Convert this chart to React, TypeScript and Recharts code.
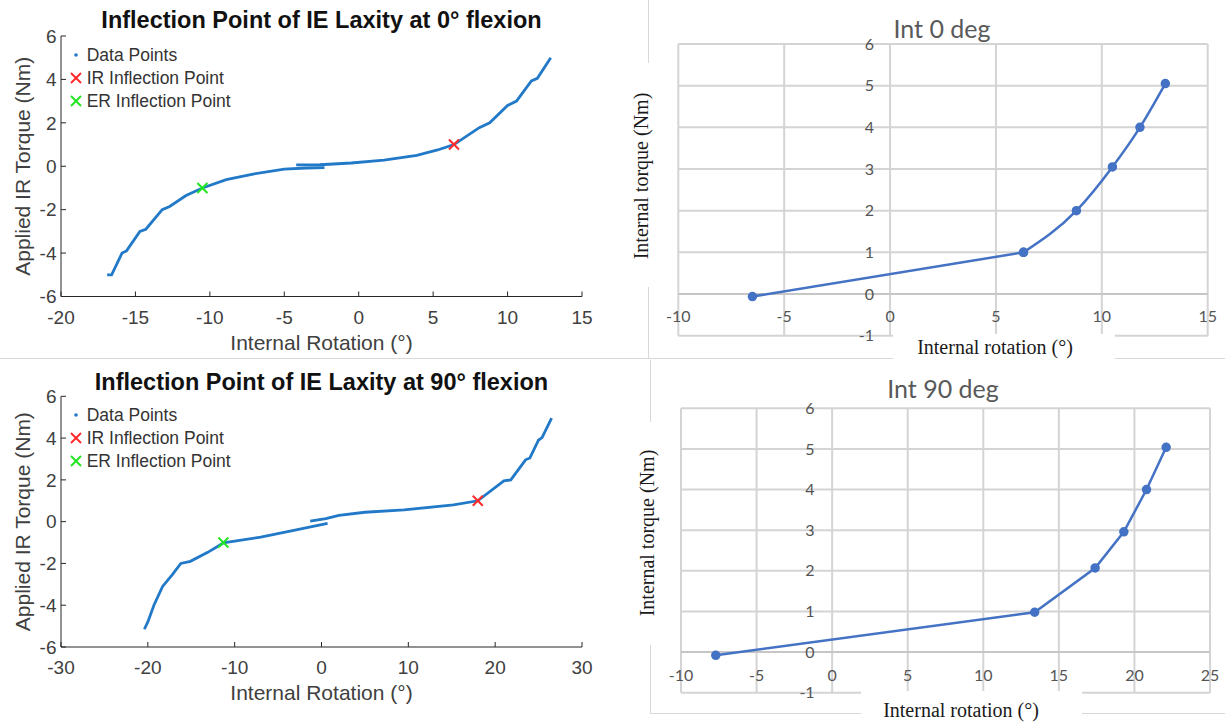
import React from 'react'
import {
  ComposedChart, Line, Scatter, XAxis, YAxis, Legend, Label, ReferenceDot, ReferenceLine,
} from 'recharts'

// ---- top-left: IE laxity at 0° flexion (MATLAB figure) ----
const flex0LowerX = [-16.9, -16.6, -15.9, -15.6, -14.7, -14.3, -13.2, -12.7, -11.6, -10.5, -8.9, -7.1, -5.0, -3.5, -2.3]
const flex0LowerY = [-5.0, -5.0, -4.0, -3.9, -3.0, -2.9, -2.0, -1.85, -1.35, -1.0, -0.62, -0.36, -0.13, -0.08, -0.06]
const flex0UpperX = [-4.2, -2.6, -0.5, 1.7, 3.9, 5.3, 6.4, 8.1, 8.8, 10.0, 10.6, 11.6, 12.0, 12.9]
const flex0UpperY = [0.06, 0.07, 0.15, 0.28, 0.5, 0.75, 1.0, 1.78, 2.0, 2.8, 3.0, 3.93, 4.05, 5.0]
const flex0IR = [{ x: 6.4, y: 1 }]
const flex0ER = [{ x: -10.5, y: -1 }]
const flex0XTicks = [-20, -15, -10, -5, 0, 5, 10, 15]

// ---- bottom-left: IE laxity at 90° flexion ----
const flex90LowerX = [-20.4, -20.0, -19.3, -18.3, -17.2, -16.2, -15.1, -13.1, -11.3, -7.0, -3.2, 0.7]
const flex90LowerY = [-5.15, -4.8, -4.0, -3.1, -2.55, -2.0, -1.9, -1.47, -1.02, -0.74, -0.42, -0.08]
const flex90UpperX = [-1.3, 0.5, 2.0, 5.0, 9.5, 15.2, 18.0, 21.0, 21.8, 23.5, 24.0, 25.0, 25.4, 26.5]
const flex90UpperY = [0.03, 0.14, 0.3, 0.45, 0.56, 0.8, 1.0, 1.95, 2.0, 2.96, 3.05, 3.91, 4.02, 4.95]
const flex90IR = [{ x: 18.0, y: 1 }]
const flex90ER = [{ x: -11.3, y: -1 }]
const flex90XTicks = [-30, -20, -10, 0, 10, 20, 30]

const matlabYTicks = [-6, -4, -2, 0, 2, 4, 6]
const legendNames = ['Data Points', 'IR Inflection Point', 'ER Inflection Point']

// ---- right: Excel charts ----
const int0X = [-6.5, 6.3, 8.8, 10.5, 11.8, 13.0]
const int0Y = [-0.06, 1.0, 2.0, 3.05, 4.0, 5.05]
const int0XTicks = [-10, -5, 0, 5, 10, 15]

const int90X = [-7.7, 13.4, 17.4, 19.3, 20.8, 22.1]
const int90Y = [-0.08, 0.98, 2.07, 2.96, 4.0, 5.04]
const int90XTicks = [-10, -5, 0, 5, 10, 15, 20, 25]

const excelYTicks = [-1, 0, 1, 2, 3, 4, 5, 6]

const toPoints = (xs: number[], ys: number[]) => xs.map((x, i) => ({ x, y: ys[i] }))

const MATLAB_FONT = '"Liberation Sans", Arial, sans-serif'
const EXCEL_FONT = 'Lato, "Open Sans", sans-serif'
const SERIF_FONT = '"Liberation Serif", "Times New Roman", serif'
const DATA_BLUE = '#2179c8'
const EXCEL_BLUE = '#4472c4'
const FRAME = '#d8d8d8'
const GRID = '#d4d4d4'

function XMark(props: any) {
  const { cx, cy, fill } = props
  if (cx == null || cy == null) return null
  const s = 5
  return (
    <g stroke={fill} strokeWidth={2}>
      <line x1={cx - s} y1={cy - s} x2={cx + s} y2={cy + s} />
      <line x1={cx - s} y1={cy + s} x2={cx + s} y2={cy - s} />
    </g>
  )
}

function MatlabLegend(props: any) {
  const items = [...(props.payload ?? [])]
    .filter((p: any) => legendNames.includes(p.value))
    .sort((a: any, b: any) => legendNames.indexOf(a.value) - legendNames.indexOf(b.value))
  return (
    <div style={{ fontFamily: MATLAB_FONT, fontSize: 17.5, color: '#333' }}>
      {items.map((p: any) => (
        <div key={p.value} style={{ display: 'flex', alignItems: 'center', height: 23, whiteSpace: 'nowrap' }}>
          <svg width={16} height={16} style={{ marginRight: 3 }}>
            {p.type === 'cross' ? (
              <g stroke={p.color} strokeWidth={2}>
                <line x1={3} y1={3} x2={13} y2={13} />
                <line x1={3} y1={13} x2={13} y2={3} />
              </g>
            ) : (
              <circle cx={8} cy={8} r={1.8} fill={p.color} />
            )}
          </svg>
          <span>{p.value}</span>
        </div>
      ))}
    </div>
  )
}

function MatlabPanel(props: any) {
  const { top, height, margin, title, titleTop, xTicks, lower, upper, ir, er } = props
  const width = 600
  const axisStyle = { stroke: '#262626' }
  return (
    <div style={{ position: 'absolute', left: 0, top, width, height, fontFamily: MATLAB_FONT }}>
      <div style={{
        position: 'absolute', left: margin.left + 50 - 40, width: width - margin.left - 50 - margin.right + 80, top: titleTop,
        textAlign: 'center', fontWeight: 'bold', fontSize: 23.5, lineHeight: '26px', color: '#111', whiteSpace: 'nowrap',
      }}>{title}</div>
      <ComposedChart width={width} height={height} margin={margin}>
        <XAxis type="number" dataKey="x" domain={[xTicks[0], xTicks[xTicks.length - 1]]} ticks={xTicks}
          height={50} axisLine={axisStyle} tickLine={axisStyle} tickSize={-5} tickMargin={19}
          tick={{ fill: '#404040', fontSize: 19 }} allowDataOverflow>
          <Label value="Internal Rotation (°)" position="insideBottom" offset={-3} fill="#404040" fontSize={21} />
        </XAxis>
        <YAxis type="number" domain={[-6, 6]} ticks={matlabYTicks} width={50}
          axisLine={axisStyle} tickLine={axisStyle} tickSize={-5} tickMargin={9.5}
          tick={{ fill: '#404040', fontSize: 19 }} allowDataOverflow>
          <Label value="Applied IR Torque (Nm)" angle={-90} position="insideLeft" offset={12}
            fill="#404040" fontSize={21} style={{ textAnchor: 'middle' }} />
        </YAxis>
        <Legend content={<MatlabLegend />} layout="vertical" align="center" verticalAlign="middle"
          wrapperStyle={{ top: 43.5, left: 67.7, width: 'auto', height: 'auto' }} />
        <Line data={lower} dataKey="y" name="Data Points" type="linear" stroke={DATA_BLUE} strokeWidth={2.8}
          dot={false} legendType="circle" isAnimationActive={false} />
        <Line data={upper} dataKey="y" name="loop" type="linear" stroke={DATA_BLUE} strokeWidth={2.8}
          dot={false} legendType="none" isAnimationActive={false} />
        <Scatter data={ir} dataKey="y" name="IR Inflection Point" fill="#ff2a2a" shape={<XMark />}
          legendType="cross" isAnimationActive={false} />
        <Scatter data={er} dataKey="y" name="ER Inflection Point" fill="#22e622" shape={<XMark />}
          legendType="cross" isAnimationActive={false} />
      </ComposedChart>
    </div>
  )
}

function ExcelPanel(props: any) {
  const { top, height, margin, xTicks, points, curve, yLabelOffset, xLabelOffset } = props
  const width = 625
  const xMin = xTicks[0]
  const xMax = xTicks[xTicks.length - 1]
  const yMin = excelYTicks[0]
  const yMax = excelYTicks[excelYTicks.length - 1]
  const head = curve === 'split' ? points.slice(0, 2) : points
  const tail = curve === 'split' ? points.slice(1) : []
  return (
    <div style={{ position: 'absolute', left: 600, top, width, height, fontFamily: EXCEL_FONT }}>
      <ComposedChart width={width} height={height} margin={margin}>
        <XAxis type="number" dataKey="x" domain={[xMin, xMax]} ticks={xTicks}
          height={1} tick={false} axisLine={false} tickLine={false} />
        <YAxis type="number" domain={[yMin, yMax]} ticks={excelYTicks} width={1}
          tick={false} axisLine={false} tickLine={false} />
        {xTicks.map((v: number) => (
          <ReferenceLine key={'gv' + v} segment={[{ x: v, y: yMin }, { x: v, y: yMax }]}
            stroke={GRID} strokeWidth={2} />
        ))}
        {excelYTicks.map((v) => (
          <ReferenceLine key={'gh' + v} segment={[{ x: xMin, y: v }, { x: xMax, y: v }]}
            stroke={v === 0 ? '#c6c6c6' : GRID} strokeWidth={2} />
        ))}
        {excelYTicks.map((v) => (
          <ReferenceDot key={'y' + v} x={0} y={v} r={1} fill="none" stroke="none"
            label={{ value: String(v), position: 'left', offset: yLabelOffset, fill: '#555', fontSize: 16 }} />
        ))}
        {xTicks.map((v: number) => (
          <ReferenceDot key={'x' + v} x={v} y={0} r={1} fill="none" stroke="none"
            label={{ value: String(v), position: 'bottom', offset: xLabelOffset, fill: '#555', fontSize: 16 }} />
        ))}
        <Line data={head} dataKey="y" type="linear" stroke={EXCEL_BLUE} strokeWidth={2.5}
          dot={{ r: 3.5, fill: EXCEL_BLUE, stroke: EXCEL_BLUE }} isAnimationActive={false} />
        {tail.length > 0 && (
          <Line data={tail} dataKey="y" type="monotone" stroke={EXCEL_BLUE} strokeWidth={2.5}
            dot={{ r: 3.5, fill: EXCEL_BLUE, stroke: EXCEL_BLUE }} isAnimationActive={false} />
        )}
      </ComposedChart>
    </div>
  )
}

function Box(props: any) {
  return <div style={{ position: 'absolute', background: '#fff', ...props.style }} />
}

function Text(props: any) {
  const { cx, cy, w, h, rotate, font, size, color, children } = props
  return (
    <div style={{
      position: 'absolute', left: cx - w / 2, top: cy - h / 2, width: w, height: h, lineHeight: h + 'px',
      textAlign: 'center', whiteSpace: 'nowrap', fontFamily: font, fontSize: size, color,
      transform: rotate ? 'rotate(-90deg)' : undefined,
    }}>{children}</div>
  )
}

export default function App() {
  return (
    <div style={{ position: 'relative', width: 1225, height: 725, background: '#fff', overflow: 'hidden' }}>
      <style>{'body{margin:0}'}</style>

      {/* faint frames of the pasted figures */}
      <div style={{ position: 'absolute', left: 0, top: 358, width: 1225, height: 1, background: FRAME }} />
      <div style={{ position: 'absolute', left: 648, top: 0, width: 1, height: 358, background: FRAME }} />
      <div style={{ position: 'absolute', left: 650, top: 360, width: 1, height: 353, background: FRAME }} />
      <div style={{ position: 'absolute', left: 650, top: 713, width: 575, height: 1, background: FRAME }} />

      <MatlabPanel top={0} height={360} margin={{ top: 36, right: 18, bottom: 13.5, left: 11 }}
        title="Inflection Point of IE Laxity at 0° flexion" titleTop={7} xTicks={flex0XTicks}
        lower={toPoints(flex0LowerX, flex0LowerY)} upper={toPoints(flex0UpperX, flex0UpperY)}
        ir={flex0IR} er={flex0ER} />
      <MatlabPanel top={360} height={365} margin={{ top: 36.3, right: 18, bottom: 28, left: 11 }}
        title="Inflection Point of IE Laxity at 90° flexion" titleTop={9} xTicks={flex90XTicks}
        lower={toPoints(flex90LowerX, flex90LowerY)} upper={toPoints(flex90UpperX, flex90UpperY)}
        ir={flex90IR} er={flex90ER} />

      <ExcelPanel top={0} height={360} margin={{ top: 44, right: 17.3, bottom: 23.3, left: 77.3 }}
        xTicks={int0XTicks} points={toPoints(int0X, int0Y)} curve="split" yLabelOffset={15} xLabelOffset={16} />
      <ExcelPanel top={360} height={365} margin={{ top: 48.3, right: 15, bottom: 31.3, left: 80 }}
        xTicks={int90XTicks} points={toPoints(int90X, int90Y)} curve="linear" yLabelOffset={16.5} xLabelOffset={17} />

      {/* Excel titles and axis titles, sitting on white boxes */}
      <Text cx={942} cy={28} w={200} h={30} font={EXCEL_FONT} size={25} color="#595959">Int 0 deg</Text>
      <Text cx={943} cy={388} w={200} h={30} font={EXCEL_FONT} size={25} color="#595959">Int 90 deg</Text>

      <Box style={{ left: 628, top: 63, width: 27, height: 224 }} />
      <Text cx={641} cy={176} w={230} h={26} rotate font={SERIF_FONT} size={20} color="#1a1a1a">Internal torque (Nm)</Text>
      <Box style={{ left: 893, top: 334, width: 222, height: 26 }} />
      <Text cx={995} cy={347} w={230} h={26} font={SERIF_FONT} size={20} color="#1a1a1a">Internal rotation (°)</Text>

      <Box style={{ left: 634, top: 422, width: 27, height: 223 }} />
      <Text cx={647} cy={533} w={230} h={26} rotate font={SERIF_FONT} size={20} color="#1a1a1a">Internal torque (Nm)</Text>
      <Box style={{ left: 861, top: 691, width: 221, height: 34 }} />
      <Text cx={961} cy={710} w={230} h={26} font={SERIF_FONT} size={20} color="#1a1a1a">Internal rotation (°)</Text>
    </div>
  )
}
